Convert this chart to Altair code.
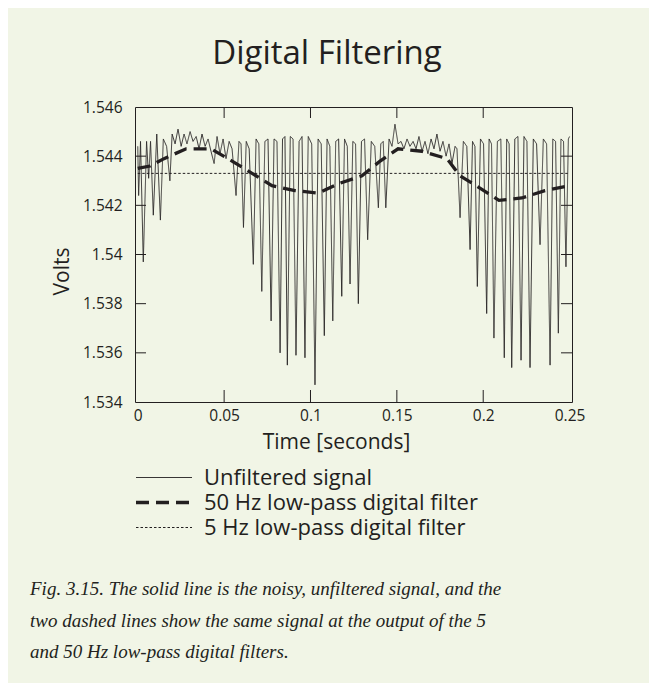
import altair as alt
import pandas as pd

TITLE = "Digital Filtering"
X_TITLE = "Time [seconds]"
Y_TITLE = "Volts"
SERIES = ["Unfiltered signal", "50 Hz low-pass digital filter", "5 Hz low-pass digital filter"]
X_TICKS = [0, 0.05, 0.1, 0.15, 0.2, 0.25]
Y_TICKS = [1.534, 1.536, 1.538, 1.54, 1.542, 1.544, 1.546]
CAPTION = [
    "Fig. 3.15. The solid line is the noisy, unfiltered signal, and the",
    "two dashed lines show the same signal at the output of the 5",
    "and 50 Hz low-pass digital filters.",
]

# unfiltered signal (seconds, volts)
t_raw = [
    0.0000, 0.0005, 0.0016, 0.0032, 0.0051, 0.0063, 0.0074, 0.0090, 0.0110, 0.0131,
    0.0148, 0.0167, 0.0186, 0.0199,
    0.0216, 0.0233, 0.0251, 0.0268, 0.0285, 0.0303, 0.0320, 0.0338, 0.0355, 0.0372,
    0.0390, 0.0407, 0.0424, 0.0442, 0.0459, 0.0476, 0.0494, 0.0511, 0.0529, 0.0546,
    0.0569, 0.0586, 0.0598,
    0.0612, 0.0628, 0.0645, 0.0669, 0.0685, 0.0701, 0.0718, 0.0736, 0.0754, 0.0772,
    0.0789, 0.0806, 0.0824, 0.0838, 0.0852, 0.0866, 0.0883, 0.0899, 0.0916, 0.0934,
    0.0951, 0.0968, 0.0987, 0.1007, 0.1026, 0.1044, 0.1062, 0.1080, 0.1096, 0.1112,
    0.1129, 0.1146, 0.1163, 0.1181, 0.1197, 0.1213, 0.1229, 0.1245, 0.1261, 0.1277,
    0.1295, 0.1313, 0.1331, 0.1352, 0.1372, 0.1393, 0.1407, 0.1421, 0.1436,
    0.1455, 0.1472, 0.1489, 0.1507, 0.1524, 0.1541, 0.1559, 0.1576, 0.1594, 0.1611,
    0.1628, 0.1646, 0.1663, 0.1680, 0.1698, 0.1715, 0.1732, 0.1750, 0.1767, 0.1785,
    0.1802, 0.1819, 0.1837, 0.1848,
    0.1866, 0.1885, 0.1905, 0.1924, 0.1938, 0.1952, 0.1966, 0.1984, 0.2002, 0.2020,
    0.2034, 0.2048, 0.2062, 0.2082, 0.2102, 0.2122, 0.2136, 0.2150, 0.2165, 0.2183,
    0.2201, 0.2219, 0.2236, 0.2253, 0.2271, 0.2290, 0.2309, 0.2329, 0.2348, 0.2367,
    0.2387, 0.2403, 0.2419, 0.2435, 0.2450, 0.2465, 0.2479, 0.2493, 0.2500,
]
v_raw = [
    1.5444, 1.5424, 1.5446, 1.5397, 1.5446, 1.5431, 1.5446, 1.5416, 1.5449, 1.5414,
    1.5447, 1.5444, 1.5430, 1.5449,
    1.5445, 1.5451, 1.5444, 1.5449, 1.5445, 1.5450, 1.5446, 1.5448, 1.5443, 1.5449,
    1.5444, 1.5447, 1.5442, 1.5437, 1.5448, 1.5441, 1.5447, 1.5439, 1.5446, 1.5443,
    1.5424, 1.5446, 1.5445,
    1.5411, 1.5446, 1.5443, 1.5396, 1.5447, 1.5445, 1.5385, 1.5446, 1.5447, 1.5373,
    1.5447, 1.5446, 1.5360, 1.5447, 1.5448, 1.5355, 1.5448, 1.5447, 1.5359, 1.5446,
    1.5448, 1.5358, 1.5448, 1.5445, 1.5347, 1.5447, 1.5445, 1.5367, 1.5447, 1.5444,
    1.5373, 1.5446, 1.5447, 1.5383, 1.5447, 1.5444, 1.5388, 1.5446, 1.5445, 1.5380,
    1.5446, 1.5447, 1.5406, 1.5446, 1.5444, 1.5419, 1.5445, 1.5446, 1.5419,
    1.5447, 1.5444, 1.5453, 1.5445, 1.5446, 1.5443, 1.5447, 1.5444, 1.5446, 1.5443,
    1.5448, 1.5442, 1.5446, 1.5441, 1.5447, 1.5443, 1.5449, 1.5442, 1.5446, 1.5440,
    1.5445, 1.5437, 1.5444, 1.5443,
    1.5415, 1.5446, 1.5444, 1.5402, 1.5446, 1.5444, 1.5387, 1.5447, 1.5445, 1.5376,
    1.5447, 1.5445, 1.5366, 1.5446, 1.5447, 1.5358, 1.5447, 1.5445, 1.5354, 1.5447,
    1.5448, 1.5357, 1.5448, 1.5446, 1.5354, 1.5447, 1.5445, 1.5404, 1.5447, 1.5445,
    1.5355, 1.5447, 1.5446, 1.5368, 1.5447, 1.5446, 1.5395, 1.5447, 1.5448,
]

# 50 Hz low-pass output
t_50 = [0.0000, 0.0071, 0.0152, 0.0280, 0.0424, 0.0546, 0.0662, 0.0777, 0.0910, 0.1044,
        0.1171, 0.1298, 0.1403, 0.1507, 0.1646, 0.1790, 0.1866, 0.1981, 0.2091, 0.2224,
        0.2357, 0.2500]
v_50 = [1.5435, 1.5436, 1.5439, 1.5443, 1.5443, 1.5438, 1.5433, 1.5428, 1.5426, 1.5425,
        1.5429, 1.5432, 1.5438, 1.5443, 1.5442, 1.5439, 1.5432, 1.5427, 1.5422, 1.5423,
        1.5426, 1.5428]

# 5 Hz low-pass output
t_5 = [0.0, 0.25]
v_5 = [1.5433, 1.5433]

INK = "#231f20"
FONT = "Open Sans"
BG = "#f1f5e6"
W, H = 437, 295

df = pd.concat([
    pd.DataFrame({"t": t_raw, "v": v_raw, "series": SERIES[0]}),
    pd.DataFrame({"t": t_50, "v": v_50, "series": SERIES[1]}),
    pd.DataFrame({"t": t_5, "v": v_5, "series": SERIES[2]}),
], ignore_index=True)

xs = alt.Scale(domain=[-0.0016, 0.2514], nice=False, zero=False)
ys = alt.Scale(domain=[1.534, 1.546], nice=False, zero=False)


def legend():
    return alt.Legend(
        title=None, orient="none", legendX=-1, legendY=358, padding=0,
        symbolType="stroke", symbolSize=3136, clipHeight=25, rowPadding=0,
        labelOffset=10, labelFont=FONT, labelFontSize=22, labelColor=INK,
        labelLimit=500,
    )


x_axis = alt.Axis(
    values=X_TICKS, format="~g", title=X_TITLE, titleX=201, titleY=46,
    titleBaseline="alphabetic", titleAlign="center", titleFont=FONT,
    titleFontSize=21, titleFontWeight="normal", titleColor=INK,
    labelPadding=6, tickSize=0, ticks=False, domain=False, grid=False)
y_axis = alt.Axis(
    values=Y_TICKS, format="~g", title=Y_TITLE, titleX=-66.7, titleY=164,
    titleBaseline="alphabetic", titleAlign="center", titleFont=FONT,
    titleFontSize=21, titleFontWeight="normal", titleColor=INK,
    labelPadding=13, tickSize=0, ticks=False, domain=False, grid=False)

x_enc = alt.X("t:Q", scale=xs, axis=x_axis, title=X_TITLE)
y_enc = alt.Y("v:Q", scale=ys, axis=y_axis, title=Y_TITLE)

enc = dict(
    x=x_enc, y=y_enc,
    color=alt.Color("series:N", scale=alt.Scale(domain=SERIES, range=[INK, INK, INK]), legend=legend()),
    strokeDash=alt.StrokeDash("series:N", scale=alt.Scale(domain=SERIES, range=[[1, 0], [13, 7], [2.5, 2]]), legend=legend()),
    strokeWidth=alt.StrokeWidth("series:N", scale=alt.Scale(type="ordinal", domain=SERIES, range=[0.9, 3.3, 1.0]), legend=legend()),
)

base = alt.Chart(df)
raw_line = base.transform_filter(alt.datum.series == SERIES[0]).mark_line().encode(**enc)
f5_line = base.transform_filter(alt.datum.series == SERIES[2]).mark_line().encode(**enc)
f50_line = base.transform_filter(alt.datum.series == SERIES[1]).mark_line().encode(**enc)

ytick_df = pd.DataFrame({"v": Y_TICKS[1:-1]})
xtick_df = pd.DataFrame({"t": X_TICKS[1:-1]})
left_ticks = alt.Chart(ytick_df).mark_rule(color=INK, strokeWidth=1).encode(
    y=y_enc, x=alt.value(0), x2=alt.value(11))
right_ticks = alt.Chart(ytick_df).mark_rule(color=INK, strokeWidth=1).encode(
    y=y_enc, x=alt.value(W - 11), x2=alt.value(W))
bottom_ticks = alt.Chart(xtick_df).mark_rule(color=INK, strokeWidth=1).encode(
    x=x_enc, y=alt.value(H - 12), y2=alt.value(H))
top_ticks = alt.Chart(xtick_df).mark_rule(color=INK, strokeWidth=1).encode(
    x=x_enc, y=alt.value(0), y2=alt.value(11))

caption = alt.Chart(pd.DataFrame({"text": ["\n".join(CAPTION)]})).mark_text(
    align="left", baseline="alphabetic", lineBreak="\n", lineHeight=31.5,
    font="Liberation Serif", fontStyle="italic", fontSize=19, color=INK,
).encode(text="text:N", x=alt.value(-105), y=alt.value(488))

chart = alt.layer(
    raw_line, f5_line, f50_line, left_ticks, right_ticks, bottom_ticks, top_ticks, caption
).properties(
    width=W, height=H,
    title=alt.TitleParams(TITLE, font=FONT, fontSize=33, fontWeight="normal",
                          color=INK, anchor="middle", dx=-26.5, offset=29),
    background=BG,
    padding={"left": 127, "top": 99, "right": 77, "bottom": 281},
    autosize=alt.AutoSizeParams(type="none"),
).configure_view(
    stroke=INK, strokeWidth=1
).configure_axis(
    labelFont=FONT, labelFontSize=15.5, labelColor=INK
)

chart.save("out.html", embed_options={"renderer": "svg", "actions": False})
